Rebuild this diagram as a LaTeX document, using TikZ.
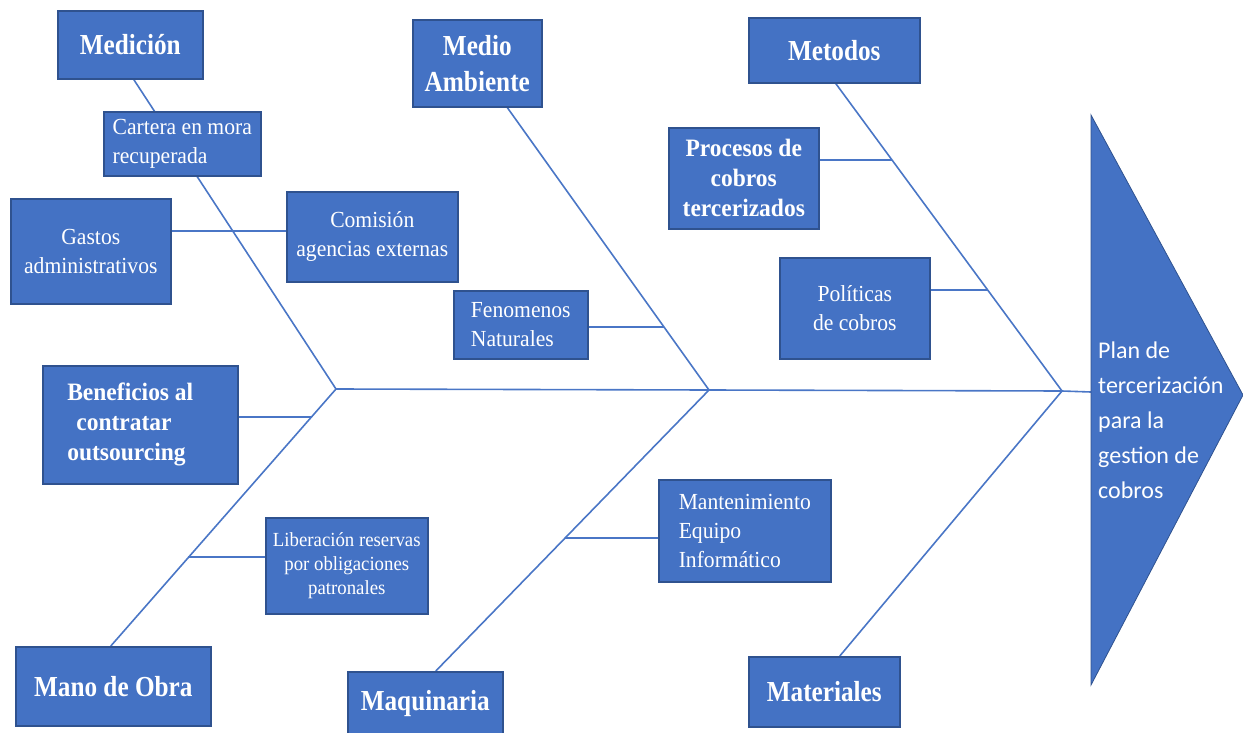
\documentclass[tikz,border=0pt]{standalone}
\usepackage{fontspec}
\setmainfont{Liberation Serif}
\newfontfamily\cond[FakeStretch=0.94]{Liberation Serif}
\newfontfamily\condt[FakeStretch=0.87]{Liberation Serif}
\newfontfamily\sansf{Carlito}
\definecolor{boxfill}{HTML}{4472C4}
\definecolor{boxborder}{HTML}{2F528F}
\definecolor{linec}{HTML}{4A76C6}
\pgfdeclarelayer{bg}
\pgfsetlayers{bg,main}
\begin{document}
\begin{tikzpicture}[x=1pt,y=-1pt,
  box/.style={draw=boxborder, fill=boxfill, line width=1.6pt, text=white, inner sep=0pt, anchor=north west},
  title/.style={box, font=\condt\bfseries\fontsize{29}{36}\selectfont, align=center},
  item/.style={box, font=\cond\fontsize{23}{29}\selectfont, align=center},
  bitem/.style={box, font=\cond\bfseries\fontsize{25}{30}\selectfont, align=center},
  small/.style={box, font=\cond\fontsize{20}{24}\selectfont, align=center},
  fishline/.style={draw=linec, line width=1.6pt}]
\useasboundingbox (0,0) rectangle (1243,733);

% boxes
\node[title, minimum width=145, minimum height=68] (med) at (57,10) {Medición};
\node[item, align=left, minimum width=157, minimum height=64] (cart) at (103,111) {Cartera en mora\\recuperada};
\node[item, minimum width=160, minimum height=105] (gastos) at (10,198) {Gastos\\administrativos};
\node[item, minimum width=171, minimum height=90] (comis) at (286,191) {Comisión\\agencias externas};
\node[title, minimum width=129, minimum height=87] (mamb) at (412,19) {Medio\\Ambiente};
\node[title, minimum width=171, minimum height=65] (meto) at (748,17) {Metodos};
\node[bitem, minimum width=150, minimum height=101] (proc) at (668,127) {Procesos de\\cobros\\tercerizados};
\node[item, minimum width=150, minimum height=101] (polit) at (779,257) {Políticas\\de cobros};
\node[item, align=left, minimum width=134, minimum height=68] (fenom) at (453,290) {Fenomenos\\Naturales};
\node[bitem, align=left, minimum width=195, minimum height=118] (benef) at (42,365) {Beneficios al\rule{20pt}{0pt}\\\hspace{9pt}contratar\\outsourcing};
\node[small, minimum width=162, minimum height=96] (liber) at (265,517) {Liberación reservas\\por obligaciones\\patronales};
\node[title, minimum width=195, minimum height=79] (mano) at (15,646) {Mano de Obra};
\node[title, minimum width=155, minimum height=64] (maq) at (347,671) {Maquinaria};
\node[item, align=left, minimum width=172, minimum height=102] (mant) at (658,479) {Mantenimiento\\Equipo\\Informático};
\node[title, minimum width=151, minimum height=70] (mater) at (748,656) {Materiales};

% head triangle
\filldraw[fill=boxfill, draw=boxborder, line width=0.8pt] (1091,115) -- (1243,395) -- (1091,685) -- cycle;
\node[font=\sansf\fontsize{24}{35}\selectfont, text=white, align=left, anchor=north west, inner sep=0pt] (goal) at (1098,342) {Plan de\\tercerización\\para la\\gestion de\\cobros};

% junctions and connector ends
\coordinate (J1) at (336,389);
\coordinate (J2) at (709,390);
\coordinate (J3) at (1062,391);
\coordinate (tri) at (1091,392);
\coordinate (b1) at (311.4,417);
\coordinate (b2) at (188.3,557);
\coordinate (b3) at (664,327);
\coordinate (b4) at (564.7,538);
\coordinate (b5) at (892.3,160);
\coordinate (b6) at (987.9,290);
\coordinate (g) at (0,231);

\begin{pgfonlayer}{bg}
\draw[fishline] (J1) -- (J2) -- (J3) -- (tri);
\draw[fishline] ([xshift=3.5pt]med.south) -- (J1);
\draw[fishline] ([xshift=-2.5pt]mano.north) -- (J1);
\draw[fishline] ([xshift=30pt]mamb.south) -- (J2);
\draw[fishline] ([xshift=10.5pt]maq.north) -- (J2);
\draw[fishline] ([xshift=1.5pt]meto.south) -- (J3);
\draw[fishline] ([xshift=15.5pt]mater.north) -- (J3);
\draw[fishline] (gastos.east |- g) -- (comis.west |- g);
\draw[fishline] (benef.east |- b1) -- (b1);
\draw[fishline] (liber.west |- b2) -- (b2);
\draw[fishline] (fenom.east |- b3) -- (b3);
\draw[fishline] (mant.west |- b4) -- (b4);
\draw[fishline] (proc.east |- b5) -- (b5);
\draw[fishline] (polit.east |- b6) -- (b6);
\end{pgfonlayer}
\end{tikzpicture}
\end{document}
